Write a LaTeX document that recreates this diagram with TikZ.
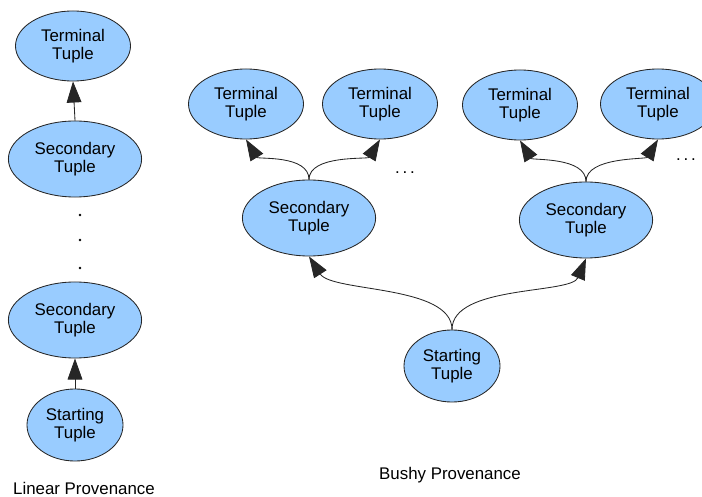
\documentclass[tikz,border=0pt]{standalone}
\usepackage{fontspec}
\setmainfont{Liberation Sans}
\usetikzlibrary{shapes.geometric,arrows.meta}
\definecolor{tupleblue}{RGB}{153,204,255}
\begin{document}
\begin{tikzpicture}[x=0.025cm, y=-0.025cm, line cap=round, line join=round, font=\fontsize{12}{13}\selectfont]
				\tikzset{tuple/.style={ellipse, draw=black!85, line width=0.6pt, fill=tupleblue, inner sep=0pt, align=center},
				terminal/.style={tuple, minimum width=2.875cm, minimum height=1.75cm},
				secondary/.style={tuple, minimum width=3.33cm, minimum height=1.9cm},
				starting/.style={tuple, minimum width=2.4cm, minimum height=1.8cm},
				link/.style={-{Triangle[length=15pt,width=10.5pt]}, draw=black!85, line width=0.6pt}}
				\useasboundingbox (0,0) rectangle (702,497);
				% linear
				\node[terminal] (lterm) at (73,46) {Terminal\\Tuple};
				\node[secondary] (lsecA) at (75,159) {Secondary\\Tuple};
				\node[secondary] (lsecB) at (75,320) {Secondary\\Tuple};
				\node[starting] (lstart) at (75,425) {Starting\\Tuple};
				\foreach\y in {215,240,268} \fill (80,\y) circle (1pt);
				\draw[link] (lsecA.north)--(lterm.south);
				\draw[link] (lstart.north)--(lsecB.south);
				\node (llabel) at (84,488) {Linear Provenance};
				% bushy
				\node[terminal] (btA) at (246,104) {Terminal\\Tuple};
				\node[terminal] (btB) at (380,104) {Terminal\\Tuple};
				\node[terminal] (btC) at (520,105) {Terminal\\Tuple};
				\node[terminal] (btD) at (658,104) {Terminal\\Tuple};
				\node[secondary] (bsecA) at (309,218) {Secondary\\Tuple};
				\node[secondary] (bsecB) at (586,220) {Secondary\\Tuple};
				\node[starting] (bstart) at (452,366) {Starting\\Tuple};
				\node (bdotsA) at (405,173) {.\hspace{2pt}.\hspace{2pt}.};
				\node (bdotsB) at (686,160) {.\hspace{2pt}.\hspace{2pt}.};
				\draw[link] (bsecA.north) .. controls +(0,-25) and +(12,20) .. (btA.south);
				\draw[link] (bsecA.north) .. controls +(0,-25) and +(-12,20) .. (btB.south);
				\draw[link] (bsecB.north) .. controls +(0,-25) and +(12,20) .. (btC.south);
				\draw[link] (bsecB.north) .. controls +(0,-25) and +(-12,20) .. (btD.south);
				\draw[link] (bstart.north) .. controls +(0,-45) and +(23,36) .. (bsecA.south);
				\draw[link] (bstart.north) .. controls +(0,-45) and +(-15,36) .. (bsecB.south);
				\node (blabel) at (450,475) {Bushy Provenance};
			\end{tikzpicture}
\end{document}
